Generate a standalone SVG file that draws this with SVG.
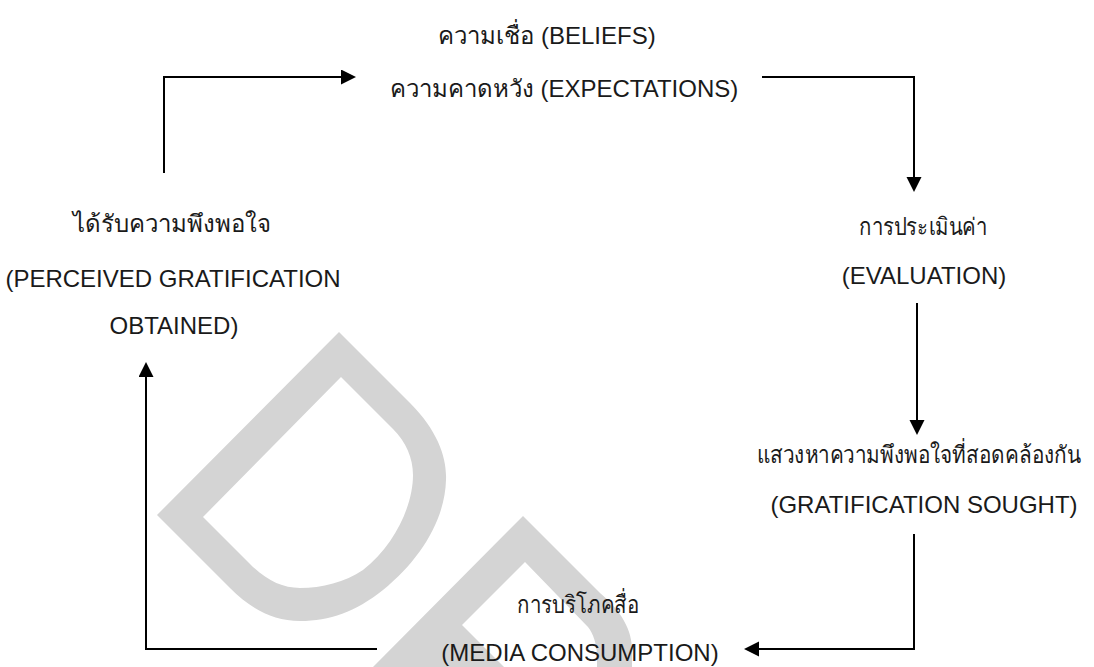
<svg xmlns="http://www.w3.org/2000/svg" width="1094" height="667" viewBox="0 0 1094 667">
<defs>
<style>
.t{font-family:"Liberation Sans","Noto Sans",sans-serif;font-size:24px;fill:#1a1a1a;text-anchor:middle}
.c{fill:none;stroke:#000;stroke-width:2}
.wm{fill:#d4d4d4;fill-rule:evenodd}
</style>
<marker id="ah" markerUnits="userSpaceOnUse" markerWidth="16" markerHeight="16" refX="7" refY="7.5" orient="auto">
<path d="M0,0 L15,7.5 L0,15 Z" fill="#000"/>
</marker>
</defs>
<rect width="1094" height="667" fill="#fff"/>
<g id="watermark">
<path class="wm" d="M339,332 L410,403 C438,431 447,458 446,480 C445,520 420,560 383,590 C355,612 330,621 300,621 C272,621 250,608 230,588 L157,515 Z M341,377 L203,517 L250,564 C266,580 282,588 300,588 C322,588 345,582 363,570 C395,545 413,505 413,475 C413,458 406,442 393,429 Z"/>
<path class="wm" d="M523,516 L600,593 C622,612 632,630 632,650 L632,667 L373,667 Z M525,562 L462,625 L504,667 L597,667 L597,655 C597,645 593,633 588,627 Z"/>
</g>
<g id="connectors">
<path class="c" d="M164,173 V77 H348" marker-end="url(#ah)"/>
<path class="c" d="M762,77 H914 V184" marker-end="url(#ah)"/>
<path class="c" d="M917,303 V427" marker-end="url(#ah)"/>
<path class="c" d="M914,534 V649 H752" marker-end="url(#ah)"/>
<path class="c" d="M377,649 H146 V370" marker-end="url(#ah)"/>
</g>
<g id="beliefs">
<text class="t" x="547" y="44">ความเชื่อ (BELIEFS)</text>
<text class="t" x="564" y="97">ความคาดหวัง (EXPECTATIONS)</text>
</g>
<g id="evaluation">
<text class="t" x="923" y="235" textLength="128" lengthAdjust="spacingAndGlyphs">การประเมินค่า</text>
<text class="t" x="924" y="284">(EVALUATION)</text>
</g>
<g id="sought">
<text class="t" x="919" y="463" textLength="324" lengthAdjust="spacingAndGlyphs">แสวงหาความพึงพอใจที่สอดคล้องกัน</text>
<text class="t" x="924" y="513">(GRATIFICATION SOUGHT)</text>
</g>
<g id="consumption">
<text class="t" x="578" y="613" textLength="122" lengthAdjust="spacingAndGlyphs">การบริโภคสื่อ</text>
<text class="t" x="580" y="661">(MEDIA CONSUMPTION)</text>
</g>
<g id="obtained">
<text class="t" x="172" y="232">ได้รับความพึงพอใจ</text>
<text class="t" x="173" y="287">(PERCEIVED GRATIFICATION</text>
<text class="t" x="174" y="334">OBTAINED)</text>
</g>
</svg>
